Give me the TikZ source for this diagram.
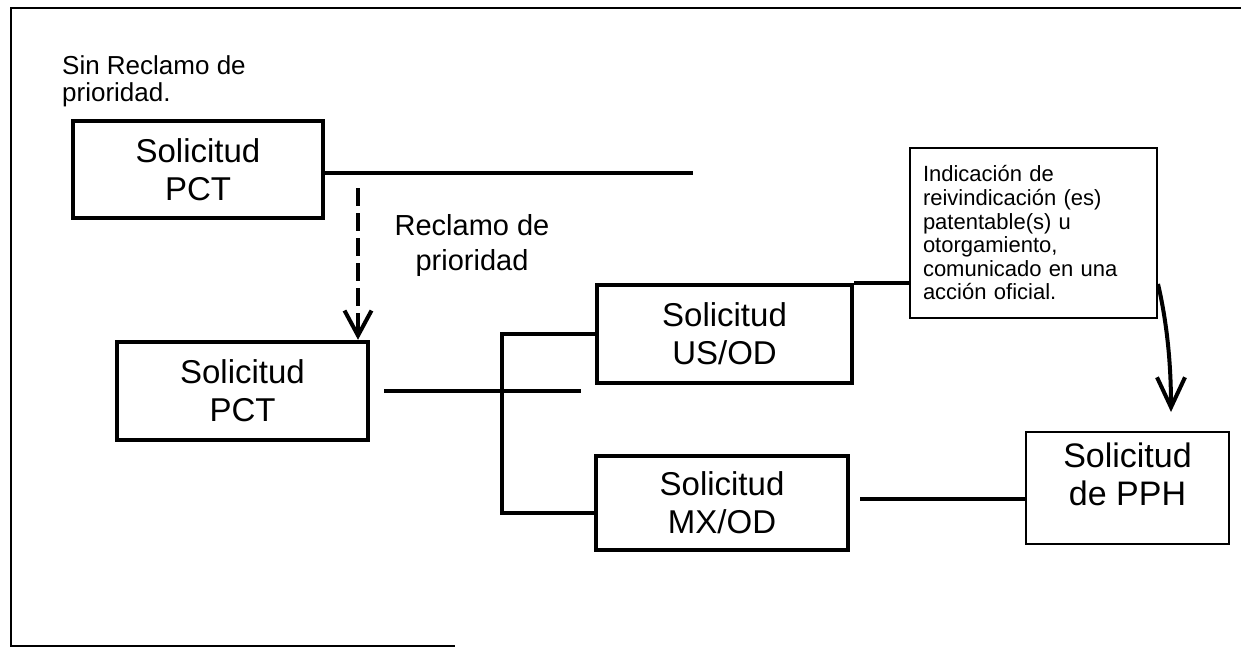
\documentclass[tikz,border=0pt]{standalone}
\usepackage{fontspec}
\setmainfont{Liberation Sans}
\usetikzlibrary{arrows.meta}
\begin{document}
\begin{tikzpicture}[x=1pt,y=-1pt,
  thickbox/.style={draw, line width=4.5pt, inner sep=0pt, align=center, font=\fontsize{33}{38}\selectfont},
  thinbox/.style={draw, line width=2pt, inner sep=0pt},
  conn/.style={line width=4pt, line join=miter},
  frameline/.style={line width=2.2pt},
  lbl/.style={inner sep=0pt}]
\useasboundingbox (0,0) rectangle (1241,648);

% frame
\draw[frameline] (1241,8) -- (11,8) -- (11,646) -- (455,646);

% boxes
\node[thickbox, minimum width=250pt, minimum height=97pt] (pct1) at (198,169.5) {Solicitud\\PCT};
\node[thickbox, minimum width=251pt, minimum height=98pt] (pct2) at (242.5,391) {Solicitud\\PCT};
\node[thickbox, minimum width=255pt, minimum height=98pt] (us) at (724.5,334) {Solicitud\\US/OD};
\node[thickbox, minimum width=252pt, minimum height=94pt] (mx) at (722,503) {Solicitud\\MX/OD};
\node[thinbox, minimum width=247pt, minimum height=170pt, text width=221pt, align=left,
      font=\fontsize{22}{23.6}\selectfont] (note) at (1033.5,233)
  {Indicación de\\reivindicación (es)\\patentable(s) u\\otorgamiento,\\comunicado en una\\acción oficial.};
\node[thinbox, minimum width=203pt, minimum height=112pt] (pph) at (1127.5,488) {};
\node[lbl, anchor=north, align=center, font=\fontsize{34}{38}\selectfont] (pphtext) at (1127.5,443) {Solicitud\\de PPH};

% labels
\node[lbl, anchor=north west, align=left, font=\fontsize{26}{27}\selectfont] (sinrec) at (62,55) {Sin Reclamo de\\prioridad.};
\node[lbl, anchor=north, align=center, font=\fontsize{29}{35}\selectfont] (reclamo) at (472,214) {Reclamo de\\prioridad};

% connectors
\coordinate (t1end) at (693,173);
\draw[conn] (pct1.east |- t1end) -- (t1end);

\coordinate (dstart) at (358,188);
\draw[conn, dash pattern=on 18pt off 7pt, -{Straight Barb[length=25pt,width=27pt]}] (dstart) -- (dstart |- pct2.north);

\coordinate (p2start) at ([xshift=14pt]pct2.east);
\coordinate (p2end) at (581,392);
\draw[conn] (p2start) -- (p2start -| p2end);

\coordinate (jt) at (502,334);
\coordinate (jb) at (502,513);
\draw[conn] (us.west) -- (jt) -- (jb) -- (jb -| mx.west);

\draw[conn] (us.north east) -- (us.north east -| note.west);

\coordinate (mstart) at (860,499);
\draw[conn] (mstart) -- (mstart -| pph.west);

\coordinate (cstart) at ([yshift=35pt]note.south east);
\coordinate (ctip) at (1171,412);
\draw[conn, -{Straight Barb[length=30pt,width=28pt]}] (cstart) .. controls (1164,310) and (1171,350) .. (ctip);
\end{tikzpicture}
\end{document}
